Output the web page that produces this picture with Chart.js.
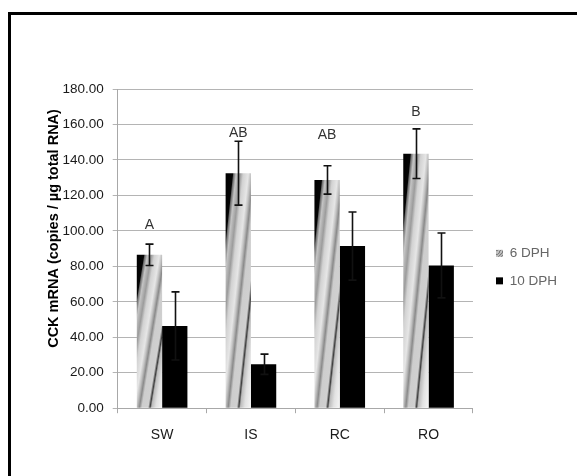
<!DOCTYPE html>
<html>
<head>
<meta charset="utf-8">
<script src="https://cdn.jsdelivr.net/npm/chart.js@4"></script>
<style>
    html, body { margin: 0; padding: 0; background: #fff; overflow: hidden; }
    #frame {
        position: absolute; left: 8px; top: 12px;
        width: 700px; height: 600px;
        border: 3px solid #000;
    }
    #wrap { position: absolute; left: 0; top: 0; width: 577px; height: 476px; }
</style>
</head>
<body>
<div id="frame"></div>
<div id="wrap"><canvas id="grafico" width="577" height="476"></canvas></div>
<script>
// dados
const categories = ['SW', 'IS', 'RC', 'RO'];
const dph6 = [86.5, 132.5, 128.7, 143.5];
const dph6Err = [6, 18, 8, 14];
const dph10 = [46.4, 24.8, 91.4, 80.5];
const dph10Err = [19.2, 5.7, 19.2, 18.3];
const groupLetters = ['A', 'AB', 'AB', 'B'];
const letterLevels = [103, 155, 154, 167];
const yTickValues = [0, 20, 40, 60, 80, 100, 120, 140, 160, 180];

const FONT = "'Liberation Sans', Arial, sans-serif";
const CAT_PCT = 0.57;

// faixas do gradiente "metalico" (u vai de -1 a 1 na largura da barra)
const stripes = [
    [-1.0, '#000000'], [-0.72, '#050505'], [-0.68, '#6a6a6a'], [-0.58, '#c4c4c4'],
    [-0.42, '#9c9c9c'], [-0.3, '#d2d2d2'], [-0.1, '#e6e6e6'], [0.0, '#c0c0c0'],
    [0.1, '#8a8a8a'], [0.2, '#cdcdcd'], [0.44, '#d0d0d0'], [0.52, '#3c3c3c'],
    [0.58, '#bcbcbc'], [0.75, '#e2e2e2'], [1.0, '#f6f6f6']
];

function barGradient(ctx) {
    const chart = ctx.chart;
    const xs = chart.scales.x, ys = chart.scales.y;
    if (!chart.chartArea || !xs || !ys || ctx.type !== 'data') return '#bdbdbd';
    const i = ctx.dataIndex;
    const cw = (xs.right - xs.left) / categories.length;
    const cx = xs.getPixelForValue(i);
    const L = cx - cw * CAT_PCT / 2, R = cx;
    const T = ys.getPixelForValue(dph6[i]), B = ys.getPixelForValue(0);
    const W = R - L, H = Math.max(B - T, 1);
    const x0 = L - W, y0 = B;
    const k = 2 * W * H / (H * H + W * W);
    const g = chart.ctx.createLinearGradient(x0, y0, x0 + k * H, y0 + k * W);
    stripes.forEach(function (s) { g.addColorStop((s[0] + 1) / 2, s[1]); });
    return g;
}

// pequeno padrao listrado para a legenda
function legendPattern() {
    const c = document.createElement('canvas');
    c.width = 7; c.height = 7;
    const p = c.getContext('2d');
    p.fillStyle = '#d6d6d6';
    p.fillRect(0, 0, 7, 7);
    p.strokeStyle = '#7a7a7a';
    p.lineWidth = 1.2;
    for (let o = -7; o < 14; o += 3) {
        p.beginPath(); p.moveTo(o, 7); p.lineTo(o + 7, 0); p.stroke();
    }
    return document.getElementById('grafico').getContext('2d').createPattern(c, 'repeat');
}

const errorBars = {
    id: 'errorBars',
    afterDatasetsDraw(chart) {
        const ctx = chart.ctx;
        const ys = chart.scales.y;
        const sets = [[dph6, dph6Err], [dph10, dph10Err]];
        ctx.save();
        ctx.strokeStyle = '#111';
        ctx.lineWidth = 1.6;
        sets.forEach(function (s, d) {
            const meta = chart.getDatasetMeta(d);
            meta.data.forEach(function (bar, i) {
                const top = ys.getPixelForValue(s[0][i] + s[1][i]);
                const bot = ys.getPixelForValue(s[0][i] - s[1][i]);
                const x = Math.round(bar.x) + 0.5;
                ctx.beginPath();
                ctx.moveTo(x, top); ctx.lineTo(x, bot);
                ctx.moveTo(x - 4, top); ctx.lineTo(x + 4, top);
                ctx.moveTo(x - 4, bot); ctx.lineTo(x + 4, bot);
                ctx.stroke();
            });
        });
        // letras de significancia sobre as barras de 6 DPH
        const meta0 = chart.getDatasetMeta(0);
        ctx.fillStyle = '#333';
        ctx.font = '14px ' + FONT;
        ctx.textAlign = 'center';
        ctx.textBaseline = 'middle';
        meta0.data.forEach(function (bar, i) {
            ctx.fillText(groupLetters[i], bar.x, ys.getPixelForValue(letterLevels[i]));
        });
        ctx.restore();
    }
};

document.addEventListener('DOMContentLoaded', function () {
    const pattern = legendPattern();
    const ctx = document.getElementById('grafico').getContext('2d');
    new Chart(ctx, {
        type: 'bar',
        data: {
            labels: categories,
            datasets: [{
                label: '6 DPH',
                data: dph6,
                backgroundColor: barGradient,
                borderWidth: 0
            }, {
                label: '10 DPH',
                data: dph10,
                backgroundColor: '#000',
                borderWidth: 0
            }]
        },
        options: {
            responsive: false,
            animation: false,
            events: [],
            datasets: { bar: { categoryPercentage: CAT_PCT, barPercentage: 1 } },
            layout: { padding: { top: 89, left: 43, right: 10, bottom: 18 } },
            plugins: {
                tooltip: { enabled: false },
                legend: {
                    position: 'right',
                    title: { display: true, text: '', font: { size: 1 }, padding: { top: -14, bottom: 0 } },
                    labels: {
                        boxWidth: 7,
                        boxHeight: 7,
                        padding: 14,
                        color: '#111',
                        font: { family: FONT, size: 13.5 },
                        generateLabels: function () {
                            return [
                                { text: '6 DPH', fillStyle: pattern, strokeStyle: pattern, lineWidth: 0, datasetIndex: 0 },
                                { text: '10 DPH', fillStyle: '#000', strokeStyle: '#000', lineWidth: 0, datasetIndex: 1 }
                            ];
                        }
                    }
                }
            },
            scales: {
                x: {
                    grid: { drawOnChartArea: false, offset: true, tickLength: 5, color: '#a8a8a8' },
                    border: { color: '#a8a8a8' },
                    ticks: { color: '#1a1a1a', padding: 14, font: { family: FONT, size: 14 } }
                },
                y: {
                    min: 0,
                    max: 180,
                    afterBuildTicks: function (axis) {
                        axis.ticks = yTickValues.map(function (v) { return { value: v }; });
                    },
                    grid: { color: '#b4b4b4', tickLength: 5 },
                    border: { color: '#a8a8a8' },
                    ticks: {
                        color: '#1a1a1a',
                        padding: 9,
                        font: { family: FONT, size: 13.5 },
                        callback: function (v) { return Number(v).toFixed(2); }
                    },
                    title: {
                        display: true,
                        text: '          CCK mRNA (copies / µg total RNA)',
                        color: '#000',
                        padding: { top: 2, bottom: -9 },
                        font: { family: FONT, size: 14.5, weight: 'bold' }
                    }
                },
                // eixo vazio so para afastar a legenda da area do grafico
                gap: {
                    type: 'linear',
                    position: 'right',
                    display: true,
                    grid: { display: false },
                    border: { display: false },
                    ticks: { display: false },
                    afterFit: function (axis) { axis.width = 9; }
                }
            }
        },
        plugins: [errorBars]
    });
});
</script>
</body>
</html>
